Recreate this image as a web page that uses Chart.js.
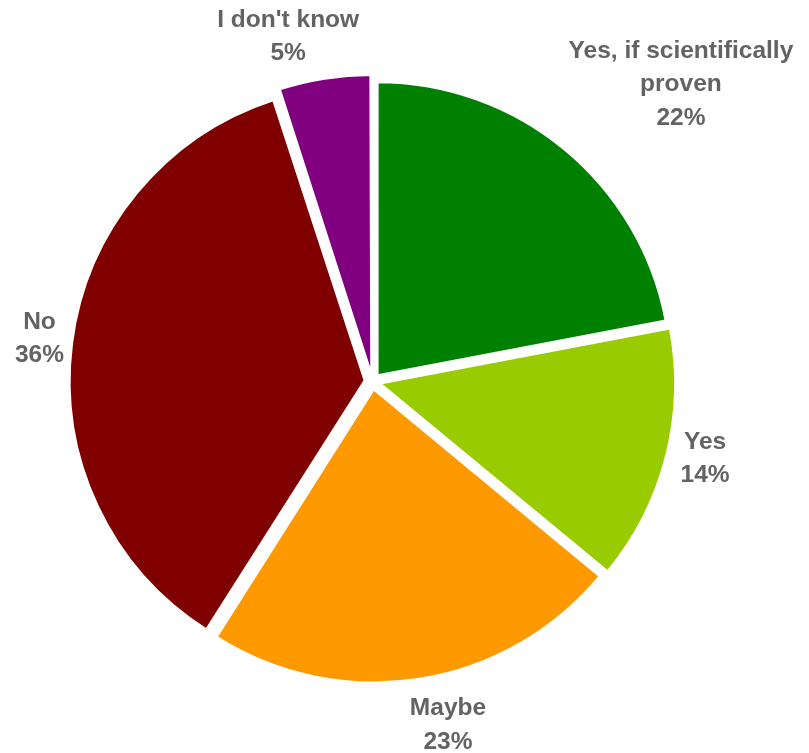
<!DOCTYPE html>
<html>
<head>
<meta charset="utf-8">
<script src="https://cdn.jsdelivr.net/npm/chart.js@4.4.1/dist/chart.umd.min.js"></script>
<style>
    body { margin: 0; background: #fff; }
    canvas { display: block; }
</style>
</head>
<body>
<canvas id="answers-pie" width="809" height="753"></canvas>
<script>
const answer_labels = ["Yes, if scientifically proven", "Yes", "Maybe", "No", "I don't know"];
const answer_values = [22, 14, 23, 36, 5];
const answer_colors = ['#008000', '#99cc00', '#ff9900', '#800000', '#800080'];

const label_font = 'bold 24.5px "Liberation Sans", Arial, sans-serif';
const label_line_height = 33.5;

function wrap_label(ctx, text, max_width)
{
    const words = text.split(" ");
    const lines = [];
    let line = "";
    for (let i = 0; i < words.length; i++)
    {
        const test = line ? line + " " + words[i] : words[i];
        if (line && ctx.measureText(test).width > max_width)
        {
            lines.push(line);
            line = words[i];
        }
        else
        {
            line = test;
        }
    }
    if (line) lines.push(line);
    return lines;
}

// draws "name / value%" outside each slice, pushed away along the slice bisector
const outsideLabels = {
    id: 'outsideLabels',
    afterDatasetsDraw(chart, args, opts) {
        const ctx = chart.ctx;
        const meta = chart.getDatasetMeta(0);
        const data = chart.data.datasets[0].data;
        const total = data.reduce((a, b) => a + b, 0);

        ctx.save();
        ctx.font = label_font;
        ctx.fillStyle = '#636363';
        ctx.textAlign = 'center';
        ctx.textBaseline = 'middle';

        meta.data.forEach((arc, idx) => {
            const p = arc.getProps(['x', 'y', 'startAngle', 'endAngle', 'outerRadius'], true);
            const mid = (p.startAngle + p.endAngle) / 2;
            const dx = Math.cos(mid);
            const dy = Math.sin(mid);
            const shift = (arc.options.offset || 0) / 4;
            const cx = p.x + dx * shift;
            const cy = p.y + dy * shift;

            const lines = wrap_label(ctx, chart.data.labels[idx], 245);
            lines.push(Math.round(data[idx] / total * 100) + '%');

            const w = Math.max(...lines.map(l => ctx.measureText(l).width));
            const h = (lines.length - 1) * label_line_height + 18;
            const r = p.outerRadius + opts.gap;
            const kx = Math.max(-1, Math.min(1, dx * 2.5));
            const nudge = opts.nudge[idx] || [0, 0];

            const bx = cx + r * dx + kx * w / 2 + nudge[0];
            const by = cy + r * dy + dy * h / 2 + nudge[1];
            const top = by - (lines.length - 1) * label_line_height / 2;

            lines.forEach((l, i) => ctx.fillText(l, bx, top + i * label_line_height));
        });
        ctx.restore();
    }
};

const pie_ctx = document.getElementById('answers-pie').getContext('2d');

const answers_pie = new Chart(pie_ctx, {
    type: 'pie',
    data: {
        labels: answer_labels,
        datasets: [{
            data: answer_values,
            backgroundColor: answer_colors,
            borderColor: '#ffffff',
            borderWidth: 2,
            offset: 32
        }]
    },
    options: {
        responsive: false,
        animation: false,
        layout: {
            padding: { left: 62.5, right: 126.5, top: 71.5, bottom: 61.5 }
        },
        plugins: {
            legend: { display: false },
            tooltip: { enabled: false },
            outsideLabels: {
                gap: 16,
                nudge: [[-6, -20], [1, -8], [11, 5], [6, 0], [-7, -6]]
            }
        }
    },
    plugins: [outsideLabels]
});
</script>
</body>
</html>
